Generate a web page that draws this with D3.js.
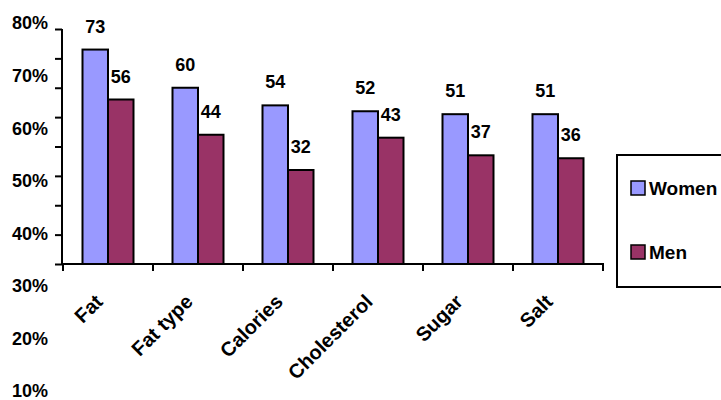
<!DOCTYPE html>
<html>
<head>
<meta charset="utf-8">
<script src="https://cdn.jsdelivr.net/npm/d3@7"></script>
<style>
  html, body { margin: 0; padding: 0; background: #fff; }
  svg { display: block; }
  text { font-family: Arial, "Liberation Sans", sans-serif; font-weight: bold; fill: #000; }
</style>
</head>
<body>
<svg id="chart" width="721" height="400"></svg>
<script>
// Share of respondents paying attention to each nutrient, by sex
const categories = ["Fat", "Fat type", "Calories", "Cholesterol", "Sugar", "Salt"];
const seriesNames = ["Women", "Men"];
const women = [73, 60, 54, 52, 51, 51];
const men = [56, 44, 32, 43, 37, 36];
const axisTicks = [0, 10, 20, 30, 40, 50, 60, 70, 80];
const percentLabels = [80, 70, 60, 50, 40, 30, 20, 10];
const colors = ["#9999FF", "#993366"];

const svg = d3.select("#chart");

const y = d3.scaleLinear().domain([0, 80]).range([264, 29]);
const x0 = d3.scaleBand().domain(categories).range([63, 603]).padding(0);
const x1 = d3.scaleBand().domain(seriesNames).range([19.5, 70.5]).padding(0);
const color = d3.scaleOrdinal().domain(seriesNames).range(colors);
// percent labels run down the left margin at their own spacing
const labelY = d3.scaleLinear().domain([80, 10]).range([23, 391]);

const rows = categories.map((c, i) => ({ cat: c, values: [
  { name: "Women", v: women[i] },
  { name: "Men", v: men[i] }
]}));

// bars
const groups = svg.append("g").selectAll("g").data(rows).join("g")
  .attr("transform", d => `translate(${x0(d.cat)},0)`);

groups.selectAll("rect").data(d => d.values).join("rect")
  .attr("x", d => x1(d.name))
  .attr("y", d => y(d.v))
  .attr("width", x1.bandwidth())
  .attr("height", d => y(0) - y(d.v))
  .attr("fill", d => color(d.name))
  .attr("stroke", "#000")
  .attr("stroke-width", 2);

groups.selectAll("text").data(d => d.values).join("text")
  .attr("x", d => x1(d.name) + x1.bandwidth() / 2)
  .attr("y", d => y(d.v) - 17)
  .attr("text-anchor", "middle")
  .style("font-size", "18px")
  .text(d => d.v);

// y axis (ticks only)
const yAxis = d3.axisLeft(y).tickValues(axisTicks).tickSize(7).tickFormat("");
const gy = svg.append("g").attr("transform", "translate(62,0)").call(yAxis);
gy.select(".domain").attr("d", `M0,${y(80)}V${y(0)}`).attr("stroke", "#000").attr("stroke-width", 2);
gy.selectAll(".tick line").attr("stroke", "#000").attr("stroke-width", 2);

// x axis with boundary ticks
const xAxisG = svg.append("g").attr("transform", `translate(0,${y(0)})`);
xAxisG.append("line").attr("x1", 62).attr("x2", x0.range()[1] + 1)
  .attr("y1", 0).attr("y2", 0).attr("stroke", "#000").attr("stroke-width", 2);
const bounds = categories.map(c => x0(c)).concat([x0.range()[1]]);
xAxisG.selectAll("line.b").data(bounds).join("line").attr("class", "b")
  .attr("x1", d => d).attr("x2", d => d)
  .attr("y1", 0).attr("y2", 7)
  .attr("stroke", "#000").attr("stroke-width", 2);

svg.append("g").selectAll("text").data(categories).join("text")
  .attr("transform", d => `translate(${x0(d) + x0.bandwidth() / 2 - 4},303) rotate(-45)`)
  .attr("text-anchor", "end")
  .style("font-size", "20px")
  .text(d => d);

// percent labels
svg.append("g").selectAll("text").data(percentLabels).join("text")
  .attr("x", 48)
  .attr("y", d => labelY(d))
  .attr("dy", "0.36em")
  .attr("text-anchor", "end")
  .style("font-size", "18px")
  .text(d => d + "%");

// legend
const legend = svg.append("g");
legend.append("rect").attr("x", 617).attr("y", 155).attr("width", 120).attr("height", 132)
  .attr("fill", "#fff").attr("stroke", "#000").attr("stroke-width", 2);
const items = legend.selectAll("g").data(seriesNames).join("g")
  .attr("transform", (d, i) => `translate(631,${181 + i * 64})`);
items.append("rect").attr("width", 14).attr("height", 14)
  .attr("fill", d => color(d)).attr("stroke", "#000").attr("stroke-width", 1.5);
items.append("text").attr("x", 18).attr("y", 7).attr("dy", "0.36em")
  .style("font-size", "19px").text(d => d);
</script>
</body>
</html>
